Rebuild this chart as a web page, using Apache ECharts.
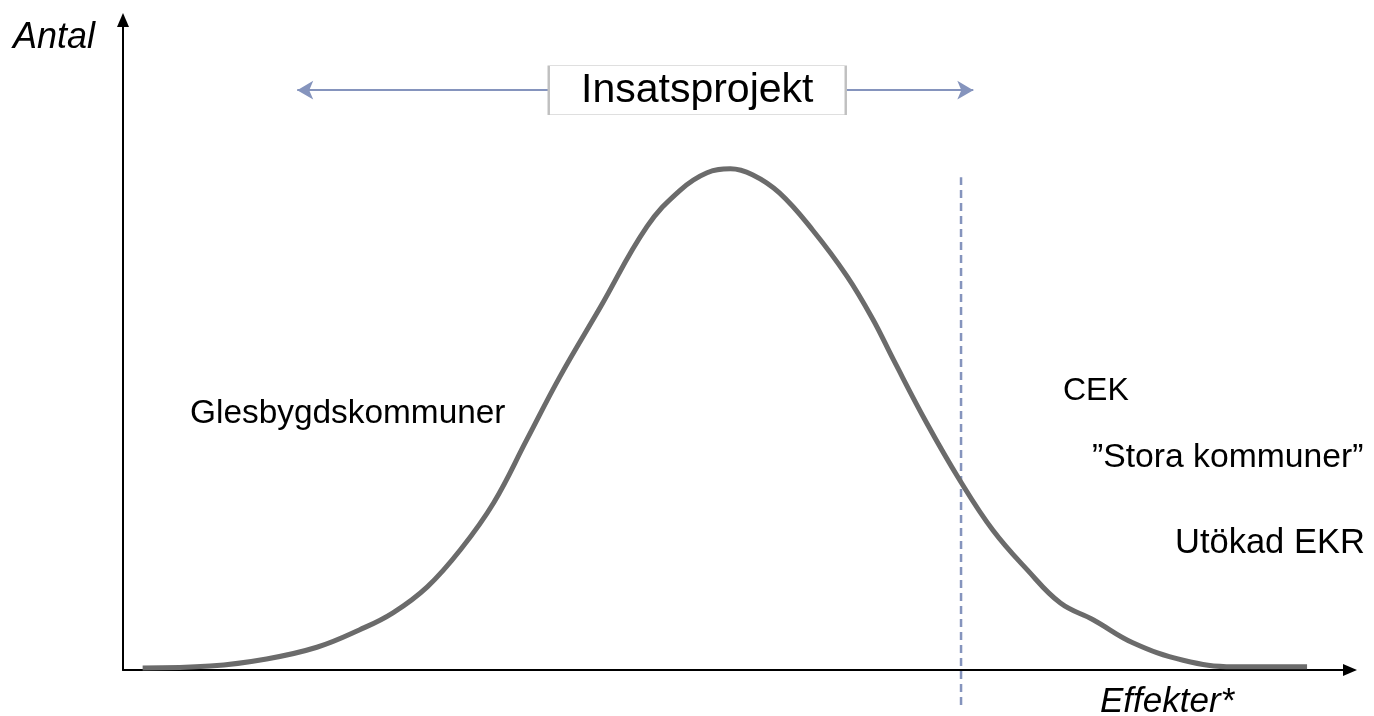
<!DOCTYPE html>
<html>
<head>
<meta charset="utf-8">
<title>Insatsprojekt</title>
<script src="https://cdn.jsdelivr.net/npm/echarts@6/dist/echarts.min.js"></script>
<style>
  html, body { margin: 0; padding: 0; background: #fff; }
  #chart { width: 1374px; height: 716px; }
</style>
</head>
<body>
<div id="chart"></div>
<script>
// curve (x: effekter, y: antal, both 0..100)
const curveX = [1.6, 7.1, 11.7, 15.8, 19.3, 22.0, 24.8, 27.5, 30.2, 32.9, 35.6, 38.9, 42.7, 45.4, 47.6, 49.5,
                51.3, 53.5, 56.2, 59.0, 61.1, 62.8, 65.5, 68.2, 70.9, 73.7, 76.4, 79.1, 82.3, 86.4, 90.5, 96.5]
const curveY = [0.3, 0.6, 1.7, 3.5, 6.2, 8.8, 12.8, 18.5, 25.7, 35.4, 45.1, 55.8, 68.2, 73.8, 76.5, 77.1,
                76.2, 73.4, 67.7, 60.6, 54.0, 47.7, 38.0, 29.2, 21.5, 15.4, 10.3, 7.7, 4.2, 1.5, 0.5, 0.5]

// vertical cut-off line
const cutX = 68.3
const cutY = [-5.4, 75.8]

// Insatsprojekt span arrow
const spanX = [14.2, 69.3]
const spanY = 89.2
const boxX = 46.8
const boxText = 'Insatsprojekt'

const FONT = 'Liberation Sans, Arial, sans-serif'
const CURVE_COLOR = '#6b6b6b'
const BLUE = '#8594bd'

const chart = echarts.init(document.getElementById('chart'))

const hiddenAxis = {
  type: 'value', min: 0, max: 100,
  axisLabel: { show: false }, axisTick: { show: false }, splitLine: { show: false },
  axisLine: { show: true, onZero: false, symbol: ['none', 'triangle'], symbolSize: [12, 14],
              lineStyle: { color: '#000', width: 2 } }
}

function text(x, y, str, size, italic) {
  return {
    type: 'text', x, y,
    style: { text: str, fill: '#000', font: (italic ? 'italic ' : '') + size + 'px ' + FONT,
             verticalAlign: 'middle' }
  }
}

chart.setOption({
  animation: false,
  grid: { left: 123, right: 24, top: 20, bottom: 46 },
  xAxis: hiddenAxis,
  yAxis: hiddenAxis,
  series: [
    {
      name: 'cut', type: 'line', clip: false, symbol: 'none', z: 1,
      data: cutY.map(v => [cutX, v]),
      lineStyle: { color: BLUE, width: 2.5, type: [8, 5] },
      markLine: {
        silent: true, symbol: ['arrow', 'arrow'], symbolSize: [14, 16],
        lineStyle: { color: BLUE, width: 2, type: 'solid' },
        label: { show: false },
        data: [[{ coord: [spanX[0], spanY] }, { coord: [spanX[1], spanY] }]]
      }
    },
    {
      name: 'curve', type: 'line', smooth: 0.4, symbol: 'none', z: 3,
      data: curveX.map((x, i) => [x, curveY[i]]),
      lineStyle: { color: CURVE_COLOR, width: 5 },
      markPoint: {
        silent: true, symbol: 'rect', symbolSize: [297, 49],
        itemStyle: { color: '#fff', borderColor: '#c0c0c0', borderWidth: 1 },
        label: { show: true, position: 'inside', color: '#000', fontSize: 41, fontFamily: FONT,
                 formatter: boxText },
        data: [{ coord: [boxX, spanY] }]
      }
    }
  ],
  graphic: [
    text(13, 38, 'Antal', 36, true),
    text(1100, 702, 'Effekter*', 35, true),
    text(190, 414, 'Glesbygdskommuner', 33.4),
    text(1063, 391, 'CEK', 32),
    text(1092, 458, '”Stora kommuner”', 33.7),
    text(1175, 543, 'Utökad EKR', 34.5)
  ]
})

window.addEventListener('resize', () => chart.resize())
</script>
</body>
</html>
